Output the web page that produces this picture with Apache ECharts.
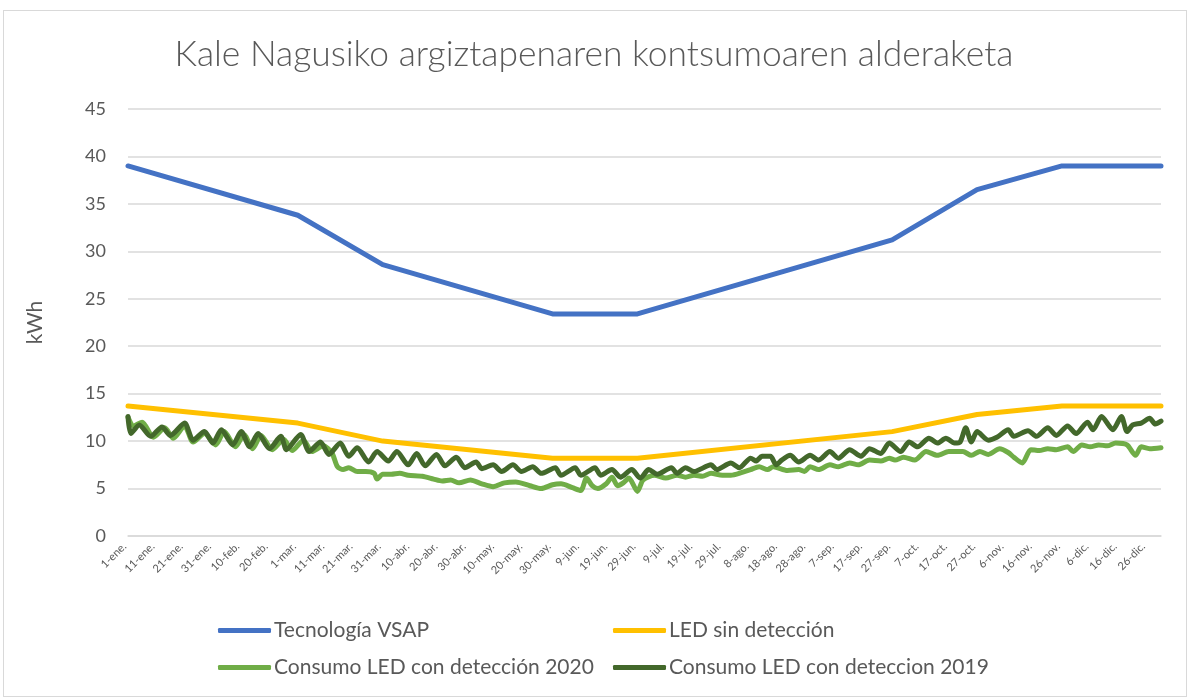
<!DOCTYPE html>
<html>
<head>
<meta charset="utf-8">
<script src="https://cdn.jsdelivr.net/npm/echarts@6/dist/echarts.min.js"></script>
<style>
html,body{margin:0;padding:0;background:#fff;}
#c{width:1188px;height:697px;}
</style>
</head>
<body>
<div id="c"></div>
<script>
// Category labels (2020, leap year): "1-ene." ... "31-dic."
const monthNames = ['ene.','feb.','mar.','abr.','may.','jun.','jul.','ago.','sep.','oct.','nov.','dic.'];
const monthDays = [31,29,31,30,31,30,31,31,30,31,30,31];
const categories = [];
monthNames.forEach((m, i) => { for (let d = 1; d <= monthDays[i]; d++) categories.push(d + '-' + m); });

// Tecnología VSAP (day index, kWh)
const vsapDays = [0, 60, 90, 150, 180, 270, 300, 330, 365];
const vsapVals = [39.0, 33.8, 28.6, 23.4, 23.4, 31.2, 36.5, 39.0, 39.0];

// LED sin detección
const ledDays = [0, 60, 90, 150, 180, 270, 300, 330, 365];
const ledVals = [13.7, 11.9, 10.0, 8.2, 8.2, 11.0, 12.8, 13.7, 13.7];

// Consumo LED con detección 2020
const led2020Days = [0,2,5,9,13,16,20,23,27,31,34,38,41,44,47,51,55,58,62,65,69,72,74,76,78,81,84,87,88,90,93,96,99,104,108,111,114,117,121,125,129,133,137,142,146,150,153,157,160,162,164,166,169,171,173,175,177,180,182,186,190,194,197,200,203,206,210,213,217,220,223,226,228,233,237,239,241,244,248,251,255,258,262,266,269,271,274,278,282,286,290,295,298,301,304,308,311,313,316,319,322,325,328,332,334,337,340,343,346,349,353,356,358,361,365];
const led2020Vals = [12.5,11.6,12.0,10.4,11.4,10.3,11.6,9.9,10.8,9.6,11.0,9.4,10.7,9.2,10.6,9.1,10.2,9.0,10.1,8.9,9.5,8.8,7.3,7.0,7.2,6.8,6.8,6.6,6.0,6.5,6.5,6.6,6.4,6.3,6.0,5.8,5.9,5.6,5.9,5.5,5.2,5.6,5.7,5.3,5.0,5.4,5.5,5.1,4.8,6.1,5.3,5.0,5.5,6.2,5.3,5.6,6.1,4.7,5.9,6.4,6.1,6.4,6.2,6.4,6.3,6.6,6.4,6.4,6.7,7.0,7.3,7.0,7.3,6.9,7.0,6.8,7.3,7.0,7.5,7.3,7.7,7.5,8.0,7.9,8.2,8.0,8.3,8.0,8.9,8.5,8.9,8.9,8.5,8.9,8.6,9.2,8.8,8.3,7.7,9.1,9.0,9.2,9.1,9.4,8.9,9.6,9.4,9.6,9.5,9.8,9.6,8.5,9.4,9.2,9.3];

// Consumo LED con deteccion 2019
const led2019Days = [0,1,4,8,12,15,20,23,27,30,33,37,40,43,46,50,54,56,61,64,68,71,75,78,81,85,88,92,95,99,102,105,109,112,116,119,123,125,129,132,136,139,143,146,151,153,158,160,165,167,171,174,178,181,184,187,192,194,197,200,206,208,213,216,220,222,224,227,229,231,234,237,241,244,248,251,255,259,262,266,269,273,276,279,283,286,289,292,294,296,298,300,304,307,311,313,318,321,325,328,332,335,339,341,344,348,351,353,355,358,361,363,365];
const led2019Vals = [12.6,10.8,11.7,10.5,11.5,10.6,11.9,10.1,11.0,9.8,11.2,9.6,11.0,9.4,10.8,9.2,10.5,9.1,10.7,8.9,9.9,8.6,9.8,8.4,9.3,7.8,8.9,7.9,8.9,7.5,8.7,7.4,8.6,7.4,8.3,7.2,7.8,7.1,7.5,6.8,7.5,6.8,7.3,6.6,7.2,6.4,7.2,6.4,7.2,6.4,7.0,6.2,7.0,6.1,7.0,6.5,7.2,6.6,7.2,6.8,7.5,7.0,7.7,7.2,8.2,7.9,8.4,8.4,7.5,8.0,8.5,7.8,8.5,8.0,8.9,8.2,9.1,8.4,9.2,8.7,9.8,8.9,9.9,9.4,10.3,9.8,10.3,9.8,9.9,11.4,9.9,11.0,10.1,10.4,11.2,10.5,11.1,10.5,11.4,10.6,11.6,10.8,12.0,11.2,12.6,11.2,12.6,11.0,11.7,11.9,12.4,11.8,12.1];

const yTicks = {min: 0, max: 45, interval: 5};

const pair = (d, v) => d.map((x, i) => [x, v[i]]);
const FONT = 'Lato';
const TXT = '#595959';

const chart = echarts.init(document.getElementById('c'));
const lineSeries = (name, color, days, vals, smooth) => ({
  name, type: 'line', data: pair(days, vals), showSymbol: false, symbol: 'none',
  smooth: smooth,
  lineStyle: {color, width: 5, cap: 'round', join: 'round'}, itemStyle: {color},
  animation: false
});
chart.setOption({
  backgroundColor: '#fff',
  title: {
    text: 'Kale Nagusiko argiztapenaren kontsumoaren alderaketa',
    left: 'center', top: 32,
    textStyle: {fontFamily: FONT, fontSize: 35.4, fontWeight: 300, color: TXT}
  },
  grid: {left: 128, right: 27, top: 109, bottom: 161},
  xAxis: {
    type: 'category', data: categories, boundaryGap: false,
    axisLine: {lineStyle: {color: '#d9d9d9', width: 1.5}},
    axisTick: {show: false},
    axisLabel: {interval: 9, rotate: 45, fontSize: 11, color: TXT, fontFamily: FONT, margin: 5, padding: [0, 5, 0, 0]}
  },
  yAxis: {
    type: 'value', min: yTicks.min, max: yTicks.max, interval: yTicks.interval,
    name: 'kWh', nameLocation: 'middle', nameGap: 82, nameRotate: 90,
    nameTextStyle: {fontSize: 21, color: TXT, fontFamily: FONT},
    axisLine: {show: false}, axisTick: {show: false},
    axisLabel: {fontSize: 18, color: TXT, fontFamily: FONT, margin: 22},
    splitLine: {lineStyle: {color: '#d9d9d9', width: 1.5}}
  },
  legend: [
    {data: ['Tecnología VSAP', 'Consumo LED con detección 2020'], orient: 'vertical', left: 213, top: 615,
     itemWidth: 53, itemHeight: 5, itemGap: 16, icon: 'roundRect',
     textStyle: {fontSize: 21, color: TXT, fontFamily: FONT, padding: [0,0,0,-2]}},
    {data: ['LED sin detección', 'Consumo LED con deteccion 2019'], orient: 'vertical', left: 608, top: 615,
     itemWidth: 53, itemHeight: 5, itemGap: 16, icon: 'roundRect',
     textStyle: {fontSize: 21, color: TXT, fontFamily: FONT, padding: [0,0,0,-2]}}
  ],
  series: [
    lineSeries('Tecnología VSAP', '#4472c4', vsapDays, vsapVals, false),
    lineSeries('LED sin detección', '#ffc000', ledDays, ledVals, false),
    lineSeries('Consumo LED con detección 2020', '#70ad47', led2020Days, led2020Vals, 0.25),
    lineSeries('Consumo LED con deteccion 2019', '#43682b', led2019Days, led2019Vals, 0.25)
  ],
  animation: false
});
</script>
<div style="position:absolute;left:3px;top:10px;width:1182px;height:685px;border:1px solid #d9d9d9;pointer-events:none;"></div>
</body>
</html>
